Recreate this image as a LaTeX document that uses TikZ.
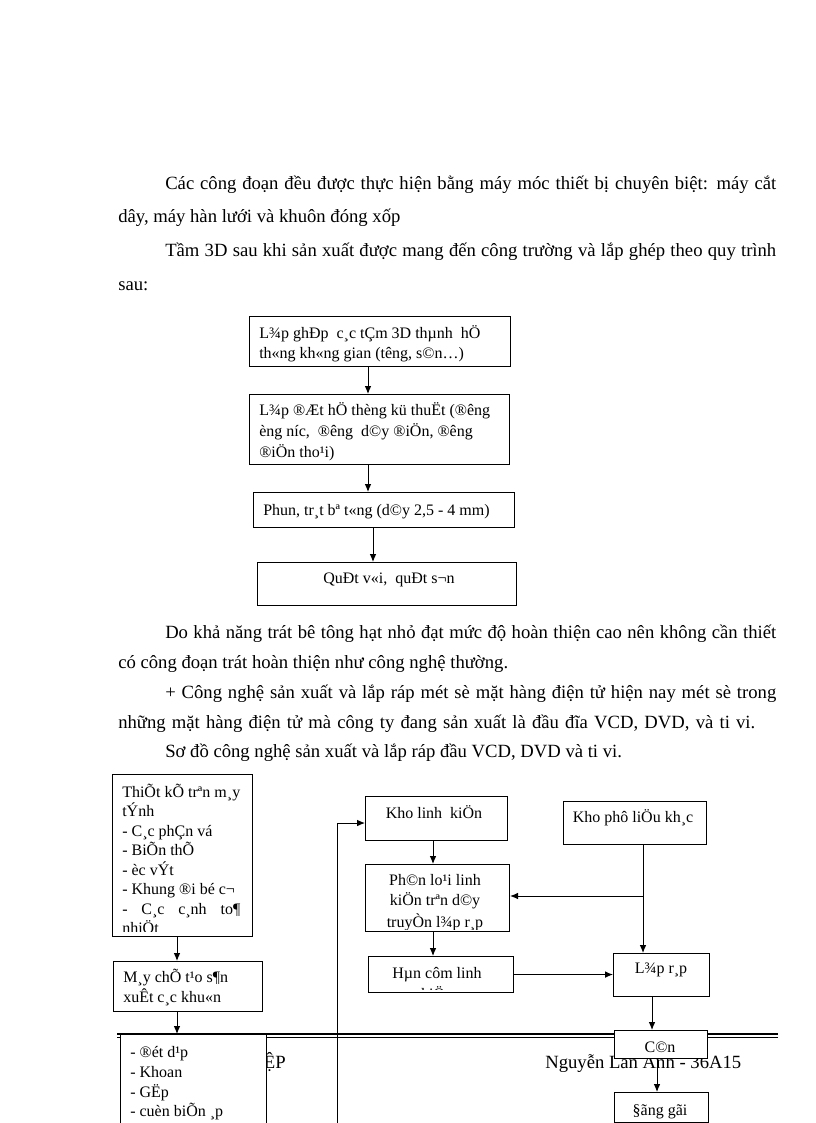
\documentclass[tikz,border=0pt]{standalone}
\usepackage{fontspec}
\setmainfont{Liberation Serif}
\usetikzlibrary{arrows.meta}
\tikzset{
  body/.style={anchor=base west, inner sep=0pt, font=\fontsize{14}{16}\selectfont},
  btxt/.style={anchor=base west, inner sep=0pt, font=\fontsize{12}{14}\selectfont},
  ctxt/.style={anchor=base, inner sep=0pt, font=\fontsize{12}{14}\selectfont},
  box/.style={draw=black, line width=0.8pt, fill=white, inner sep=0pt, anchor=north west},
  arr/.style={draw=black, line width=0.75pt, -{Latex[length=6pt,width=5pt]}},
  foot/.style={inner sep=0pt, anchor=base west, font=\fontsize{14}{16}\selectfont},
}
\newcommand\bx[5]{\node[box, minimum width=#4*0.75pt, minimum height=#5*0.75pt] (#1) at (#2,#3) {};}
\begin{document}
\begin{tikzpicture}[x=0.75pt,y=-0.75pt]
\path[clip] (0,0) rectangle (816,1123);
\useasboundingbox (0,0) rectangle (816,1123);
\fill[white] (0,0) rectangle (816,1123);

% body text
\node[body] (p1) at (165,190) {\makebox[458.25pt][s]{Các công đoạn đều được thực hiện bằng máy móc thiết bị chuyên biệt: máy cắt}};
\node[body] (p2) at (118,223) {dây, máy hàn lưới và khuôn đóng xốp};
\node[body] (p3) at (165,257) {\makebox[458.25pt][s]{Tầm 3D sau khi sản xuất được mang đến công trường và lắp ghép theo quy trình}};
\node[body] (p4) at (118,290) {sau:};
\node[body] (p5) at (165,638) {\makebox[458.25pt][s]{Do khả năng trát bê tông hạt nhỏ đạt mức độ hoàn thiện cao nên không cần thiết}};
\node[body] (p6) at (118,668) {có công đoạn trát hoàn thiện như công nghệ thường.};
\node[body] (p7) at (165,698) {\makebox[458.25pt][s]{+ Công nghệ sản xuất và lắp ráp mét sè mặt hàng điện tử hiện nay mét sè trong}};
\node[body] (p8) at (118,728) {\makebox[477.75pt][s]{những mặt hàng điện tử mà công ty đang sản xuất là đầu đĩa VCD, DVD, và ti vi.}};
\node[body] (p9) at (165,757) {Sơ đồ công nghệ sản xuất và lắp ráp đầu VCD, DVD và ti vi.};

% top flowchart
\bx{b1}{249}{316}{261}{50}
\bx{b2}{249}{394}{260}{70}
\bx{b3}{253}{492}{261}{35}
\bx{b4}{257}{562}{259}{43}
\node[btxt] (t1a) at (259,338) {L¾p ghÐp\ \ c¸c tÇm 3D thµnh\ \ hÖ};
\node[btxt] (t1b) at (259,358) {th«ng kh«ng gian (têng, s©n…)};
\node[btxt] (t2a) at (259,415) {L¾p ®Æt hÖ thèng kü thuËt (®êng};
\node[btxt] (t2b) at (259,436) {èng níc,\ \ ®êng\ \ d©y ®iÖn, ®êng};
\node[btxt] (t2c) at (259,457) {®iÖn tho¹i)};
\node[btxt] (t3) at (263,515) {Phun, tr¸t bª t«ng (d©y 2,5 - 4 mm)};
\node[ctxt] (t4) at (389,583) {QuÐt v«i,\ \ quÐt s¬n};
\coordinate (xa) at (368,0);
\coordinate (xb) at (373,0);
\draw[arr] (b1.south -| xa) -- (b2.north -| xa);
\draw[arr] (b2.south -| xa) -- (b3.north -| xa);
\draw[arr] (b3.south -| xb) -- (b4.north -| xb);

% footer
\draw[line width=1.1pt] (117,1034) -- (778,1034);
\draw[line width=0.6pt] (117,1037.5) -- (778,1037.5);
\node[foot, anchor=base east] (fl) at (286,1068) {ỆP};
\node[foot] (fr) at (545,1068) {Nguyễn Lan Anh - 36A15};

% bottom flowchart boxes
\bx{A}{112}{774}{140}{162}
\bx{B}{113}{961}{149}{50}
\bx{C}{120}{1034}{146}{110}
\bx{E}{365}{796}{142}{44}
\bx{F}{563}{801}{143}{43}
\bx{G}{365}{864}{144}{67}
\bx{H}{368}{956}{145}{36}
\bx{I}{613}{953}{96}{43}
\bx{D}{614}{1030}{93}{28}
\bx{J}{614}{1092}{94}{30}

\begin{scope}
\clip ([yshift=2pt]A.north west) rectangle ([yshift=4pt]A.south east);
\node[btxt] (a1) at (122,797) {\makebox[88.5pt][s]{ThiÕt kÕ trªn m¸y}};
\node[btxt] (a2) at (122,816.5) {tÝnh};
\node[btxt] (a3) at (122,836) {- C¸c phÇn vá};
\node[btxt] (a4) at (122,855.5) {- BiÕn thÕ};
\node[btxt] (a5) at (122,875) {- èc vÝt};
\node[btxt] (a6) at (122,894.5) {- Khung ®i bé c¬};
\node[btxt] (a7) at (122,914) {\makebox[88.5pt][s]{- C¸c c¸nh to¶}};
\node[btxt] (a8) at (122,933.5) {nhiÖt};
\end{scope}
\node[btxt] (bt1) at (123,982) {M¸y chÕ t¹o s¶n};
\node[btxt] (bt2) at (123,1002) {xuÊt c¸c khu«n};
\begin{scope}
\clip (C.north west) rectangle (C.south east);
\node[btxt] (c1) at (130,1057) {- ®ét d¹p};
\node[btxt] (c2) at (130,1077) {- Khoan};
\node[btxt] (c3) at (130,1097) {- GËp};
\node[btxt] (c4) at (130,1116) {- cuèn biÕn ¸p};
\end{scope}
\node[ctxt] (et) at (434,818) {Kho linh\ \ kiÖn};
\node[ctxt] (ft) at (633,822) {Kho phô liÖu kh¸c};
\begin{scope}
\clip (G.north west) rectangle ([yshift=2pt]G.south east);
\node[ctxt] (g1) at (435,885) {Ph©n lo¹i linh};
\node[ctxt] (g2) at (435,905) {kiÖn trªn d©y};
\node[ctxt] (g3) at (435,927) {truyÒn l¾p r¸p};
\end{scope}
\begin{scope}
\clip (H.north west) rectangle ([yshift=3pt]H.south east);
\node[ctxt] (h1) at (437,978) {Hµn côm linh};
\node[ctxt] (h2) at (437,999) {kiÖn};
\end{scope}
\node[ctxt] (it) at (661,973) {L¾p r¸p};
\node[ctxt] (dt) at (660,1052) {C©n};
\node[ctxt] (jt) at (660,1115) {§ãng gãi};

% connectors
\coordinate (xA) at (177,0);
\coordinate (xE) at (433,0);
\coordinate (xF) at (643,0);
\coordinate (xI) at (652,0);
\coordinate (xD) at (657,0);
\coordinate (br) at (643,896);
\coordinate (lb) at (337,1123);
\coordinate (lt) at (337,823);
\draw[arr] (A.south -| xA) -- (B.north -| xA);
\draw[arr] (B.south -| xA) -- (C.north -| xA);
\draw[arr] (E.south -| xE) -- (G.north -| xE);
\draw[arr] (G.south -| xE) -- (H.north -| xE);
\draw[arr] (F.south -| xF) -- (I.north -| xF);
\draw[arr] (br) -- (br -| G.east);
\draw[arr] (H.east) -- (H.east -| I.west);
\draw[arr] (I.south -| xI) -- (D.north -| xI);
\draw[arr] (D.south -| xD) -- (J.north -| xD);
\draw[arr] (lb) -- (lt) -- (lt -| E.west);
\end{tikzpicture}
\end{document}
